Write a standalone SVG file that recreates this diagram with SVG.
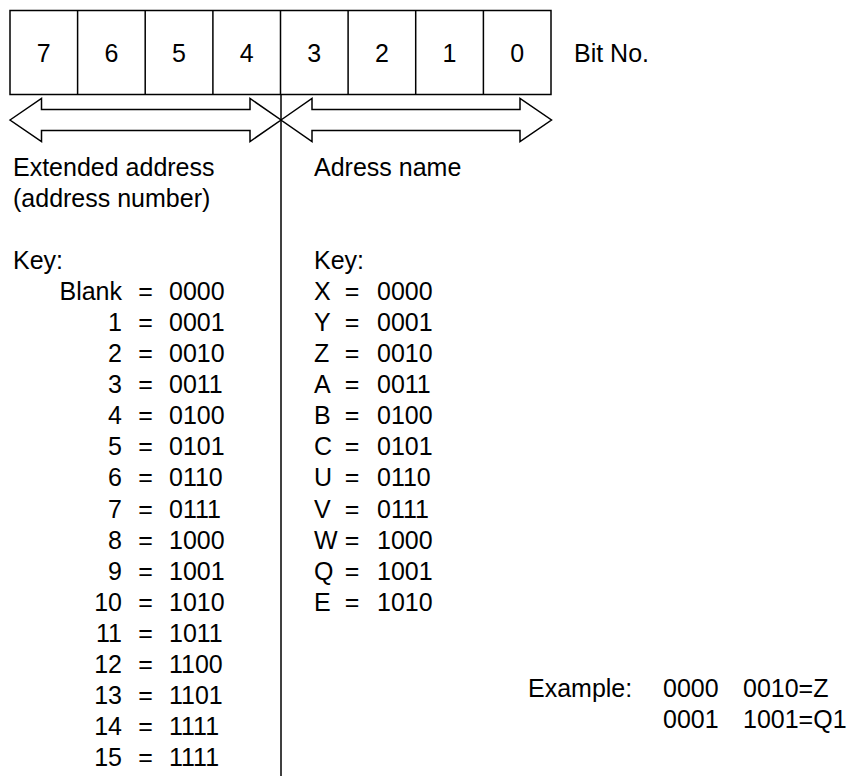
<svg xmlns="http://www.w3.org/2000/svg" width="862" height="776" viewBox="0 0 862 776">
<style>
text{font-family:"Liberation Sans",Arial,sans-serif;font-size:25px;fill:#000}
.c{text-anchor:middle}
.e{text-anchor:end}
.ln{fill:none;stroke:#000;stroke-width:1.5}
.ar{fill:#fff;stroke:#000;stroke-width:1.5;stroke-linejoin:miter}
</style>
<rect width="862" height="776" fill="#fff"/>
<g id="bits">
<rect class="ln" x="10" y="10.5" width="541" height="84"/>
<path class="ln" d="M77.6 10.5V94.5M145.2 10.5V94.5M212.9 10.5V94.5M280.5 10.5V94.5M348.1 10.5V94.5M415.7 10.5V94.5M483.4 10.5V94.5"/>
<text class="c" x="43.8" y="62">7</text>
<text class="c" x="111.4" y="62">6</text>
<text class="c" x="179" y="62">5</text>
<text class="c" x="246.7" y="62">4</text>
<text class="c" x="314.3" y="62">3</text>
<text class="c" x="381.9" y="62">2</text>
<text class="c" x="449.5" y="62">1</text>
<text class="c" x="517.2" y="62">0</text>
<text x="574" y="62">Bit No.</text>
</g>
<g id="connectors">
<path class="ln" d="M281 94.5V776"/>
<path class="ar" d="M10 120L41.5 98.5V109.5H250V98.5L281 120L250 141.5V130.5H41.5V141.5Z"/>
<path class="ar" d="M281 120L312 98.5V109.5H520V98.5L551.5 120L520 141.5V130.5H312V141.5Z"/>
</g>
<g id="extended">
<text x="13" y="176">Extended address</text>
<text x="13" y="207">(address number)</text>
<text x="13" y="269">Key:</text>
<g class="e">
<text x="122" y="300">Blank</text>
<text x="122" y="331.1">1</text>
<text x="122" y="362.1">2</text>
<text x="122" y="393.2">3</text>
<text x="122" y="424.3">4</text>
<text x="122" y="455.4">5</text>
<text x="122" y="486.4">6</text>
<text x="122" y="517.5">7</text>
<text x="122" y="548.6">8</text>
<text x="122" y="579.6">9</text>
<text x="122" y="610.7">10</text>
<text x="122" y="641.8">11</text>
<text x="122" y="672.8">12</text>
<text x="122" y="703.9">13</text>
<text x="122" y="735">14</text>
<text x="122" y="766">15</text>
</g>
<g class="c">
<text x="145.5" y="300">=</text><text x="145.5" y="331.1">=</text><text x="145.5" y="362.1">=</text><text x="145.5" y="393.2">=</text>
<text x="145.5" y="424.3">=</text><text x="145.5" y="455.4">=</text><text x="145.5" y="486.4">=</text><text x="145.5" y="517.5">=</text>
<text x="145.5" y="548.6">=</text><text x="145.5" y="579.6">=</text><text x="145.5" y="610.7">=</text><text x="145.5" y="641.8">=</text>
<text x="145.5" y="672.8">=</text><text x="145.5" y="703.9">=</text><text x="145.5" y="735">=</text><text x="145.5" y="766">=</text>
</g>
<text x="169" y="300">0000</text>
<text x="169" y="331.1">0001</text>
<text x="169" y="362.1">0010</text>
<text x="169" y="393.2">0011</text>
<text x="169" y="424.3">0100</text>
<text x="169" y="455.4">0101</text>
<text x="169" y="486.4">0110</text>
<text x="169" y="517.5">0111</text>
<text x="169" y="548.6">1000</text>
<text x="169" y="579.6">1001</text>
<text x="169" y="610.7">1010</text>
<text x="169" y="641.8">1011</text>
<text x="169" y="672.8">1100</text>
<text x="169" y="703.9">1101</text>
<text x="169" y="735">1111</text>
<text x="169" y="766">1111</text>
</g>
<g id="name">
<text x="314" y="176">Adress name</text>
<text x="314" y="269">Key:</text>
<text x="314" y="300">X</text>
<text x="314" y="331.1">Y</text>
<text x="314" y="362.1">Z</text>
<text x="314" y="393.2">A</text>
<text x="314" y="424.3">B</text>
<text x="314" y="455.4">C</text>
<text x="314" y="486.4">U</text>
<text x="314" y="517.5">V</text>
<text x="314" y="548.6">W</text>
<text x="314" y="579.6">Q</text>
<text x="314" y="610.7">E</text>
<g class="c">
<text x="352" y="300">=</text><text x="352" y="331.1">=</text><text x="352" y="362.1">=</text><text x="352" y="393.2">=</text>
<text x="352" y="424.3">=</text><text x="352" y="455.4">=</text><text x="352" y="486.4">=</text><text x="352" y="517.5">=</text>
<text x="352" y="548.6">=</text><text x="352" y="579.6">=</text><text x="352" y="610.7">=</text>
</g>
<text x="377" y="300">0000</text>
<text x="377" y="331.1">0001</text>
<text x="377" y="362.1">0010</text>
<text x="377" y="393.2">0011</text>
<text x="377" y="424.3">0100</text>
<text x="377" y="455.4">0101</text>
<text x="377" y="486.4">0110</text>
<text x="377" y="517.5">0111</text>
<text x="377" y="548.6">1000</text>
<text x="377" y="579.6">1001</text>
<text x="377" y="610.7">1010</text>
</g>
<g id="example">
<text x="528" y="697">Example:</text>
<text x="663" y="697">0000</text>
<text x="743" y="697">0010=Z</text>
<text x="663" y="728">0001</text>
<text x="743" y="728">1001=Q1</text>
</g>
</svg>
